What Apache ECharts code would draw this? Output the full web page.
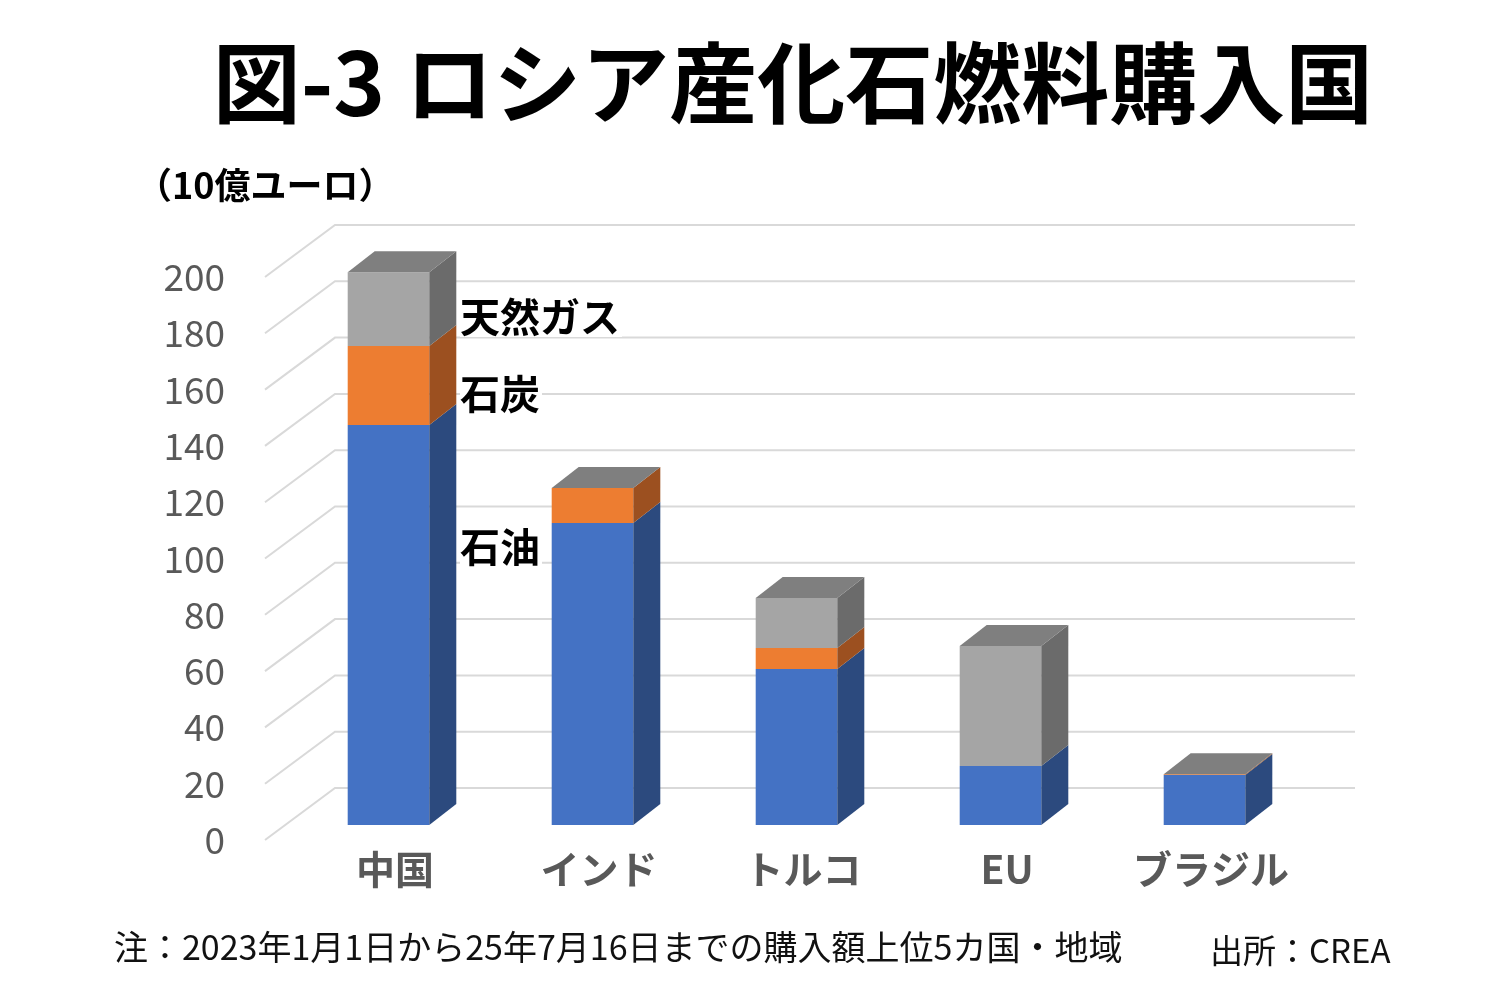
<!DOCTYPE html>
<html>
<head>
<meta charset="utf-8">
<script src="https://cdn.jsdelivr.net/npm/echarts@6/dist/echarts.min.js"></script>
<style>html,body{margin:0;padding:0;background:#fff}#c{width:1500px;height:1000px}</style>
</head>
<body>
<div id="c"></div>
<script>
const categories = ['中国', 'インド', 'トルコ', 'EU', 'ブラジル'];
const oil  = [142.1, 107.3, 55.4, 21.0, 17.8];
const coal = [28.1, 12.4, 7.5, 0, 0.2];
const gas  = [26.2, 0, 17.7, 42.6, 0];
const yTicks = [0, 20, 40, 60, 80, 100, 120, 140, 160, 180, 200];

const FONT = '"Noto Sans CJK JP", "Noto Sans", sans-serif';
const DX = 27, DY = -21;

function segData(lower, vals) {
  return vals.map((v, i) => {
    const b = lower.reduce((s, arr) => s + arr[i], 0);
    return [i, b, b + v];
  });
}

function makeRender(front, side, top, drawTop) {
  return function (params, api) {
    const i = api.value(0), b = api.value(1), t = api.value(2);
    const pb = api.coord([i, b]);
    const pt = api.coord([i, t]);
    const w = api.size([1, 0])[0] * 0.4;
    const x0 = pb[0] - w / 2, x1 = pb[0] + w / 2;
    const yb = pb[1], yt = pt[1];
    const children = [];
    if (yb - yt > 0.01) {
      children.push({ type: 'rect', shape: { x: x0, y: yt, width: w, height: yb - yt }, style: { fill: front } });
      children.push({ type: 'polygon', shape: { points: [[x1, yb], [x1 + DX, yb + DY], [x1 + DX, yt + DY], [x1, yt]] }, style: { fill: side } });
    }
    if (drawTop) {
      children.push({ type: 'polygon', shape: { points: [[x0, yt], [x0 + DX, yt + DY], [x1 + DX, yt + DY], [x1, yt]] }, style: { fill: top } });
    }
    return { type: 'group', children };
  };
}

function gridRender(params, api) {
  const v = api.value(1);
  const c = api.coord([0, v])[1];
  const cs = params.coordSys;
  return {
    type: 'polyline',
    shape: { points: [[cs.x - 21.5, c + 15], [cs.x + 48.5, c - 37], [cs.x + cs.width + 48.5, c - 37]] },
    style: { stroke: '#d9d9d9', lineWidth: 2, fill: null }
  };
}

function label(text, x, y, font, extra) {
  return { type: 'text', z: 100, style: Object.assign({ text, x, y, font, fill: '#000', textAlign: 'left', textVerticalAlign: 'middle', verticalAlign: 'middle' }, extra || {}) };
}

const chart = echarts.init(document.getElementById('c'), null, { renderer: 'canvas' });
chart.setOption({
  backgroundColor: '#ffffff',
  animation: false,
  grid: [
    { left: 286.5, width: 1020, top: 262, height: 563 },
    { left: 293, width: 1020, top: 277, height: 563 }
  ],
  xAxis: [
    { type: 'category', gridIndex: 0, data: categories, axisLine: { show: false }, axisTick: { show: false }, axisLabel: { show: false }, splitLine: { show: false } },
    { type: 'category', gridIndex: 1, data: categories, axisLine: { show: false }, axisTick: { show: false },
      axisLabel: { show: true, margin: 10, color: '#595959', fontSize: 39, fontWeight: 'bold', fontFamily: FONT }, splitLine: { show: false } }
  ],
  yAxis: [
    { type: 'value', gridIndex: 0, min: 0, max: 200, interval: 20, axisLine: { show: false }, axisTick: { show: false }, axisLabel: { show: false }, splitLine: { show: false } },
    { type: 'value', gridIndex: 1, min: 0, max: 200, interval: 20, offset: 60, axisLine: { show: false }, axisTick: { show: false },
      axisLabel: { show: true, margin: 8, color: '#595959', fontSize: 37, fontFamily: FONT }, splitLine: { show: false } }
  ],
  series: [
    { type: 'custom', name: 'grid', xAxisIndex: 0, yAxisIndex: 0, clip: false, z: 1, silent: true,
      data: yTicks.map(v => [0, v]), renderItem: gridRender },
    { type: 'custom', name: '石油', xAxisIndex: 0, yAxisIndex: 0, clip: false, z: 2,
      encode: { x: 0, y: [1, 2] },
      data: segData([], oil), renderItem: makeRender('#4472c4', '#2c4a7e', '#3a5f9e', false) },
    { type: 'custom', name: '石炭', xAxisIndex: 0, yAxisIndex: 0, clip: false, z: 3,
      encode: { x: 0, y: [1, 2] },
      data: segData([oil], coal), renderItem: makeRender('#ed7d31', '#9c5020', '#c06628', false) },
    { type: 'custom', name: '天然ガス', xAxisIndex: 0, yAxisIndex: 0, clip: false, z: 4,
      encode: { x: 0, y: [1, 2] },
      data: segData([oil, coal], gas), renderItem: makeRender('#a5a5a5', '#6b6b6b', '#7f7f7f', true) }
  ],
  graphic: [
    label('図-3 ロシア産化石燃料購入国', 793, 83, 'bold 88px ' + FONT, { textAlign: 'center' }),
    label('（10億ユーロ）', 136, 185, 'bold 36px ' + FONT),
    label('天然ガス', 460, 317, 'bold 40px ' + FONT, { backgroundColor: '#fff', padding: [0, 2, 0, 0] }),
    label('石炭', 460, 394, 'bold 40px ' + FONT, { backgroundColor: '#fff', padding: [0, 2, 0, 0] }),
    label('石油', 460, 547, 'bold 40px ' + FONT, { backgroundColor: '#fff', padding: [0, 2, 0, 0] }),
    label('注：2023年1月1日から25年7月16日までの購入額上位5カ国・地域', 114, 947, '34px ' + FONT, { fill: '#111' }),
    label('出所：CREA', 1210, 950, '33px ' + FONT, { fill: '#111' })
  ]
});
</script>
</body>
</html>
